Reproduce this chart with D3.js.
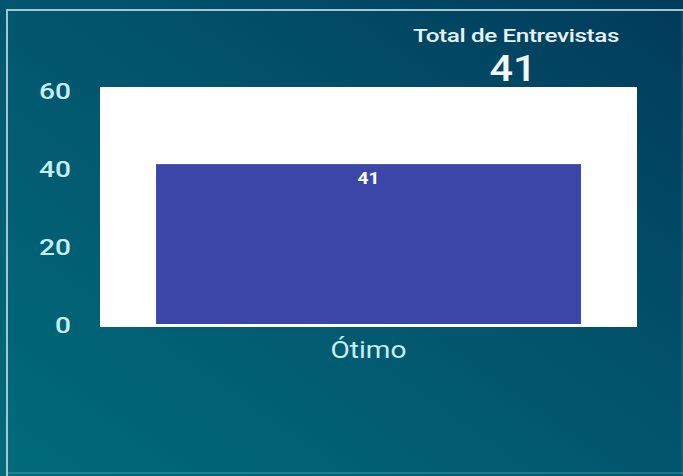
<!DOCTYPE html>
<html><head><meta charset="utf-8">
<script src="https://cdn.jsdelivr.net/npm/d3@7"></script>
<style>html,body{margin:0;padding:0;overflow:hidden;background:#014a66;}svg{display:block;}</style>
</head><body>
<script>
const categories = ["Ótimo"];
const values = [41];
const yTicks = [0, 20, 40, 60];
const totalTitle = "Total de Entrevistas";
const totalValue = 41;

const W = 683, H = 476;
const svg = d3.select("body").append("svg").attr("width", W).attr("height", H);
const defs = svg.append("defs");
const g = defs.append("linearGradient").attr("id","bg").attr("x1","0").attr("y1","1").attr("x2","1").attr("y2","0");
g.append("stop").attr("offset","0").attr("stop-color","#006b7b");
g.append("stop").attr("offset","0.5").attr("stop-color","#02566e");
g.append("stop").attr("offset","1").attr("stop-color","#013b5a");
svg.append("rect").attr("width",W).attr("height",H).attr("fill","url(#bg)");

// frame
svg.append("line").attr("x1",6).attr("x2",W).attr("y1",10).attr("y2",10).attr("stroke","#a4c4d8").attr("stroke-width",2);
svg.append("line").attr("x1",7).attr("x2",7).attr("y1",10).attr("y2",H).attr("stroke","#a4c4d8").attr("stroke-width",2);
svg.append("line").attr("x1",682).attr("x2",682).attr("y1",10).attr("y2",H).attr("stroke","#a4c4d8").attr("stroke-opacity",0.2).attr("stroke-width",1);
svg.append("line").attr("x1",6).attr("x2",W).attr("y1",473).attr("y2",473).attr("stroke","#7fd0d0").attr("stroke-opacity",0.25).attr("stroke-width",2);

const x = d3.scaleBand().domain(categories).range([100, 637]).paddingInner(0.1165).paddingOuter(0.1165);
const y = d3.scaleLinear().domain([0, 60]).range([324, 90]);

// plot background
svg.append("rect").attr("x",100).attr("y",87).attr("width",537).attr("height",240).attr("fill","#ffffff");

svg.selectAll("rect.bar").data(values).join("rect").attr("class","bar")
  .attr("x",(d,i)=>x(categories[i])).attr("width",x.bandwidth())
  .attr("y",d=>y(d)).attr("height",d=>y(0)-y(d)).attr("fill","#3b47a8");

svg.selectAll("text.vl").data(values).join("text").attr("class","vl")
  .attr("x",(d,i)=>x(categories[i])+x.bandwidth()/2).attr("y",d=>y(d)+20)
  .attr("text-anchor","middle").attr("font-family","Roboto").attr("font-weight",700)
  .attr("font-size",16).attr("fill","#ffffff")
  .attr("transform",(d,i)=>{const cx=x(categories[i])+x.bandwidth()/2;return `translate(${cx},0) scale(1.2,1) translate(${-cx},0)`;})
  .text(d=>d);

const yAxis = svg.append("g").attr("transform","translate(72,0)")
  .call(d3.axisLeft(y).tickValues(yTicks).tickSize(0).tickPadding(0));
yAxis.select(".domain").remove();
yAxis.selectAll("text").attr("font-family","Roboto").attr("font-weight",500).attr("font-size",22.5)
  .attr("fill","#c6eef2").attr("x",-0.8).attr("dy","0.32em").attr("transform","translate(0,1) scale(1.25,1)");

const xAxis = svg.append("g").attr("transform","translate(0,327)")
  .call(d3.axisBottom(x).tickSize(0).tickPadding(0));
xAxis.select(".domain").remove();
xAxis.selectAll("text").attr("font-family","Roboto").attr("font-weight",400).attr("font-size",23)
  .attr("fill","#c6eef2").attr("dy","0").attr("y",31).attr("transform","scale(1.22,1)");

// total header
svg.append("text").attr("x",516).attr("y",42).attr("text-anchor","middle")
  .attr("font-family","Roboto").attr("font-weight",500).attr("font-size",18.5).attr("fill","#e6f2f6")
  .attr("letter-spacing","-0.3").attr("textLength",206).attr("lengthAdjust","spacingAndGlyphs").text(totalTitle);
svg.append("text").attr("x",513).attr("y",81).attr("text-anchor","middle")
  .attr("font-family","Roboto").attr("font-weight",500).attr("font-size",37).attr("fill","#f2f8fa")
  .attr("textLength",47).attr("lengthAdjust","spacingAndGlyphs").text(totalValue);
</script>
</body></html>
